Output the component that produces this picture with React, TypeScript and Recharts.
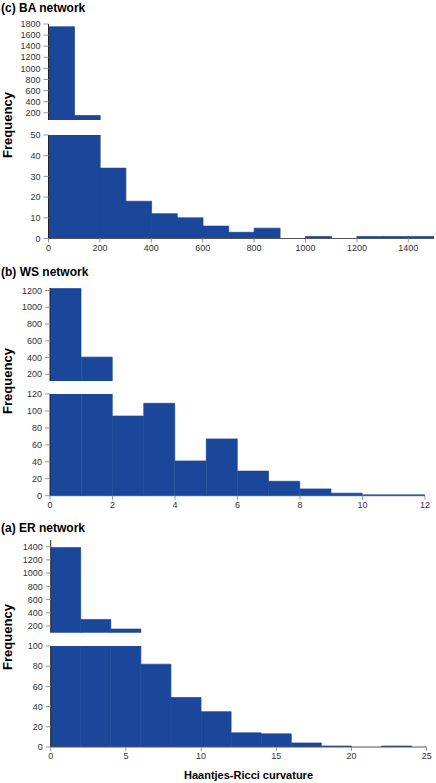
import React from "react";
import { BarChart, Bar, XAxis, YAxis } from "recharts";

// ---------- Data ----------
const BA_BIN_STARTS = [0, 100, 200, 300, 400, 500, 600, 700, 800, 900, 1000, 1100, 1200, 1300, 1400];
const BA_COUNTS = [1750, 150, 34, 18, 12, 10, 6, 3, 5, 0, 1, 0, 1, 1, 1];
const BA_BIN_WIDTH = 100;

const WS_BIN_STARTS = [0, 1, 2, 3, 4, 5, 6, 7, 8, 9, 10, 11];
const WS_COUNTS = [1225, 405, 94, 109, 41, 67, 29, 17, 8, 3, 1, 1];
const WS_BIN_WIDTH = 1;

const ER_BIN_STARTS = [0, 2, 4, 6, 8, 10, 12, 14, 16, 18, 20, 22];
const ER_COUNTS = [1385, 300, 155, 82, 49, 35, 14, 13, 4, 1, 0, 1];
const ER_BIN_WIDTH = 2;

const BA_X_TICKS = [0, 200, 400, 600, 800, 1000, 1200, 1400];
const WS_X_TICKS = [0, 2, 4, 6, 8, 10, 12];
const ER_X_TICKS = [0, 5, 10, 15, 20, 25];

const BA_UPPER_TICKS = [200, 400, 600, 800, 1000, 1200, 1400, 1600, 1800];
const BA_LOWER_TICKS = [0, 10, 20, 30, 40, 50];
const WS_UPPER_TICKS = [200, 400, 600, 800, 1000, 1200];
const WS_LOWER_TICKS = [0, 20, 40, 60, 80, 100, 120];
const ER_UPPER_TICKS = [200, 400, 600, 800, 1000, 1200, 1400];
const ER_LOWER_TICKS = [0, 20, 40, 60, 80, 100];

const TITLES = ["(c) BA network", "(b) WS network", "(a) ER network"];
const Y_LABEL = "Frequency";
const X_LABEL = "Haantjes-Ricci curvature";

// ---------- Styles ----------
const FONT = "'Liberation Sans', Arial, Helvetica, sans-serif";
const BAR_FILL = "#1a479a";
const AXIS_COLOR = "#555";
const TICK_LINE = "#999";
const TICK_TEXT = "#333";

type Row = { x: number; v: number | null };

function buildRows(starts: number[], counts: number[], width: number, mode: "upper" | "lower", brk: number): Row[] {
  return starts.map((s, i) => {
    const c = counts[i];
    if (mode === "lower") return { x: s + width / 2, v: Math.min(c, brk) };
    return { x: s + width / 2, v: c > brk ? c : null };
  });
}

type SubProps = {
  rows: Row[];
  plotTop: number;
  plotBottom: number;
  plotLeft: number;
  plotRight: number;
  xDomain: [number, number];
  yDomain: [number, number];
  yTicks: number[];
  xTicks?: number[];
  showX: boolean;
};

function Sub(p: SubProps) {
  const padTop = 8;
  const below = p.showX ? 24 : 2;
  const height = p.plotBottom - p.plotTop + padTop + below;
  return (
    <div style={{ position: "absolute", left: 0, top: p.plotTop - padTop, width: 436, height }}>
      <BarChart
        width={436}
        height={height}
        data={p.rows}
        barCategoryGap={0}
        barGap={0}
        margin={{ top: padTop, right: 436 - p.plotRight, left: 0, bottom: p.showX ? 4 : below }}
      >
        <XAxis
          type="number"
          dataKey="x"
          domain={p.xDomain}
          ticks={p.xTicks}
          hide={!p.showX}
          height={20}
          interval={0}
          allowDataOverflow
          axisLine={{ stroke: AXIS_COLOR }}
          tickLine={{ stroke: TICK_LINE }}
          tickSize={4}
          tickMargin={2}
          tick={{ fill: TICK_TEXT, fontSize: 9, fontFamily: FONT }}
        />
        <YAxis
          type="number"
          domain={p.yDomain}
          ticks={p.yTicks}
          width={p.plotLeft}
          interval={0}
          allowDataOverflow
          axisLine={{ stroke: "#222" }}
          tickLine={{ stroke: TICK_LINE }}
          tickSize={5}
          tickMargin={3}
          tick={{ fill: TICK_TEXT, fontSize: 9, fontFamily: FONT }}
        />
        <Bar dataKey="v" fill={BAR_FILL} stroke={BAR_FILL} strokeWidth={0.7} isAnimationActive={false} />
      </BarChart>
    </div>
  );
}

function Title({ text, top }: { text: string; top: number }) {
  return (
    <div
      style={{
        position: "absolute",
        left: 1,
        top,
        fontFamily: FONT,
        fontWeight: "bold",
        fontSize: 12,
        lineHeight: "14px",
        color: "#000",
        whiteSpace: "nowrap",
      }}
    >
      {text}
    </div>
  );
}

function YLabel({ cy }: { cy: number }) {
  return (
    <div
      style={{
        position: "absolute",
        left: 8 - 50,
        top: cy - 8,
        width: 100,
        height: 16,
        lineHeight: "16px",
        textAlign: "center",
        transform: "rotate(-90deg)",
        fontFamily: FONT,
        fontWeight: "bold",
        fontSize: 13,
        color: "#000",
      }}
    >
      {Y_LABEL}
    </div>
  );
}

export default function App() {
  const baUpper = buildRows(BA_BIN_STARTS, BA_COUNTS, BA_BIN_WIDTH, "upper", 50);
  const baLower = buildRows(BA_BIN_STARTS, BA_COUNTS, BA_BIN_WIDTH, "lower", 50);
  const wsUpper = buildRows(WS_BIN_STARTS, WS_COUNTS, WS_BIN_WIDTH, "upper", 120);
  const wsLower = buildRows(WS_BIN_STARTS, WS_COUNTS, WS_BIN_WIDTH, "lower", 120);
  const erUpper = buildRows(ER_BIN_STARTS, ER_COUNTS, ER_BIN_WIDTH, "upper", 100);
  const erLower = buildRows(ER_BIN_STARTS, ER_COUNTS, ER_BIN_WIDTH, "lower", 100);

  return (
    <div style={{ position: "absolute", left: 0, top: 0, width: 436, height: 783, background: "#fff", overflow: "hidden" }}>
      <Title text={TITLES[0]} top={1} />
      <Sub rows={baUpper} plotTop={24} plotBottom={120} plotLeft={48.5} plotRight={434}
        xDomain={[0, 1500]} yDomain={[70, 1800]} yTicks={BA_UPPER_TICKS} showX={false} />
      <Sub rows={baLower} plotTop={135} plotBottom={238.5} plotLeft={48.5} plotRight={434}
        xDomain={[0, 1500]} yDomain={[0, 50]} yTicks={BA_LOWER_TICKS} xTicks={BA_X_TICKS} showX />
      <YLabel cy={125} />

      <Title text={TITLES[1]} top={265} />
      <Sub rows={wsUpper} plotTop={288} plotBottom={381} plotLeft={50} plotRight={425}
        xDomain={[0, 12]} yDomain={[120, 1230]} yTicks={WS_UPPER_TICKS} showX={false} />
      <Sub rows={wsLower} plotTop={394.3} plotBottom={496} plotLeft={50} plotRight={425}
        xDomain={[0, 12]} yDomain={[0, 120]} yTicks={WS_LOWER_TICKS} xTicks={WS_X_TICKS} showX />
      <YLabel cy={381} />

      <Title text={TITLES[2]} top={521} />
      <Sub rows={erUpper} plotTop={540} plotBottom={632.7} plotLeft={50.7} plotRight={426.7}
        xDomain={[0, 25]} yDomain={[100, 1500]} yTicks={ER_UPPER_TICKS} showX={false} />
      <Sub rows={erLower} plotTop={645.7} plotBottom={746.7} plotLeft={50.7} plotRight={426.7}
        xDomain={[0, 25]} yDomain={[0, 100]} yTicks={ER_LOWER_TICKS} xTicks={ER_X_TICKS} showX />
      <YLabel cy={637} />

      <div
        style={{
          position: "absolute",
          left: 148.5,
          top: 768,
          width: 200,
          textAlign: "center",
          fontFamily: FONT,
          fontWeight: "bold",
          fontSize: 11,
          lineHeight: "14px",
          color: "#000",
          whiteSpace: "nowrap",
        }}
      >
        {X_LABEL}
      </div>
    </div>
  );
}
